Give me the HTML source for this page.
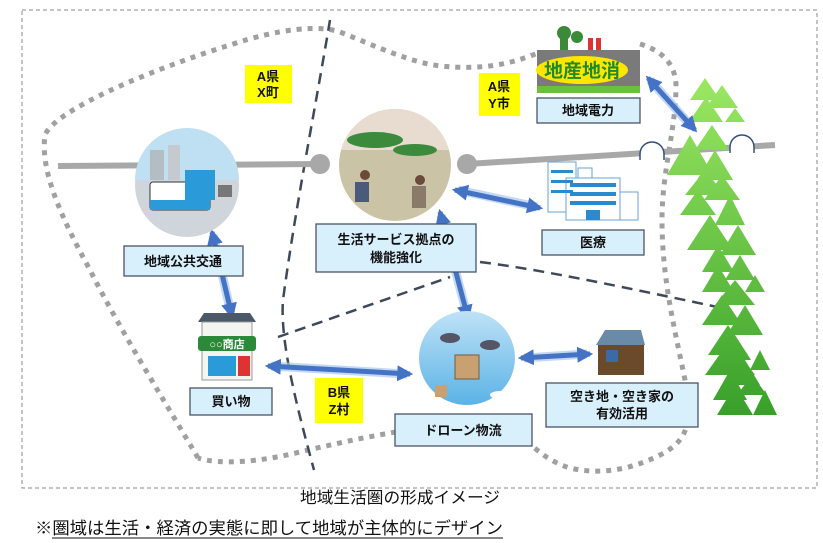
<!DOCTYPE html>
<html><head><meta charset="utf-8"><style>
html,body{margin:0;padding:0;background:#fff;}
svg{display:block;}
text{font-family:"Liberation Sans","Noto Sans CJK JP",sans-serif;}
.lb{font-weight:bold;font-size:13px;fill:#111;}
</style></head><body>
<svg width="823" height="543" viewBox="0 0 823 543" xmlns="http://www.w3.org/2000/svg">
<defs>
<linearGradient id="tg" x1="0" y1="0" x2="0" y2="1"><stop offset="0" stop-color="#9be862"/><stop offset="1" stop-color="#38a02a"/></linearGradient>
<linearGradient id="sky" x1="0" y1="0" x2="0" y2="1"><stop offset="0" stop-color="#bfe2f7"/><stop offset="1" stop-color="#5ab3e6"/></linearGradient>
<marker id="ah" viewBox="0 0 10 10" refX="8" refY="5" markerWidth="3.2" markerHeight="3.2" orient="auto-start-reverse"><path d="M0,0 L10,5 L0,10 z" fill="#4472c4"/></marker>
</defs>
<rect x="22" y="10" width="795" height="478" fill="none" stroke="#888" stroke-width="1" stroke-dasharray="4,3"/>
<path d="M198,458 C170,410 120,330 90,270 C60,215 40,170 45,135 C55,110 150,70 230,45 C280,28 320,25 340,32 C380,48 410,62 440,66 C480,70 510,65 540,52 M640,44 C660,50 675,62 676,85 C676,130 662,170 662,220 C662,280 675,330 685,380 C692,420 690,440 660,455 C630,470 600,475 570,468 C550,462 540,452 532,446 M396,432 C360,438 330,445 300,452 C260,462 220,465 198,458" fill="none" stroke="#a0a0a0" stroke-width="5" stroke-dasharray="5,6"/>
<path d="M330,20 C315,110 295,210 283,300 C280,340 295,400 314,470" fill="none" stroke="#3e4a5a" stroke-width="2.5" stroke-dasharray="11,7"/>
<path d="M278,337 L450,277 M480,262 C530,268 600,282 722,308" fill="none" stroke="#3e4a5a" stroke-width="2.5" stroke-dasharray="11,7"/>
<line x1="58" y1="166" x2="320" y2="164" stroke="#a8a8a8" stroke-width="6"/>
<circle cx="320" cy="164" r="10" fill="#a8a8a8"/>
<line x1="467" y1="164" x2="775" y2="145" stroke="#a8a8a8" stroke-width="6"/>
<circle cx="467" cy="164" r="10" fill="#a8a8a8"/>
<path d="M640,160 v-6 a12,12 0 0 1 24,0 v6" fill="#fff" stroke="#34507a" stroke-width="1.5"/>
<path d="M730,153 v-6 a12,12 0 0 1 24,0 v6" fill="#fff" stroke="#34507a" stroke-width="1.5"/>
<g fill="url(#tg)">
<path d="M705,78 l15,22 h-30z M722,85 l16,23 h-32z M706,97 l17,25 h-34z M735,108 l10,14 h-20z M712,125 l17,25 h-34z M690,135 l23,40 h-46z M715,150 l18,30 h-36z M705,170 l20,25 h-40z M722,175 l18,25 h-36z M698,190 l18,25 h-36z M730,195 l15,30 h-30z M710,215 l23,35 h-46z M738,225 l18,30 h-36z M718,245 l16,27 h-32z M740,255 l15,25 h-30z M718,265 l16,27 h-32z M755,275 l10,17 h-20z M735,280 l20,25 h-40z M722,295 l20,30 h-40z M745,305 l18,30 h-36z M728,325 l20,30 h-40z M735,335 l16,25 h-32z M760,350 l10,20 h-20z M730,340 l25,35 h-50z M742,355 l18,30 h-36z M730,370 l17,30 h-34z M752,375 l15,20 h-30z M735,385 l18,30 h-36z M765,390 l12,25 h-24z"/>
</g>
<g stroke="#a9c8ee" stroke-width="9" fill="none" opacity="0.7">
<line x1="458" y1="190" x2="537" y2="207"/><line x1="650" y1="80" x2="692" y2="127"/><line x1="213" y1="235" x2="231" y2="313"/><line x1="441" y1="215" x2="467" y2="315"/><line x1="271" y1="366" x2="407" y2="374"/><line x1="524" y1="358" x2="587" y2="354"/>
</g>
<g stroke="#4472c4" stroke-width="5" fill="none" marker-start="url(#ah)" marker-end="url(#ah)">
<line x1="455" y1="190" x2="540" y2="208"/>
<line x1="648" y1="78" x2="695" y2="130"/>
<line x1="212" y1="232" x2="232" y2="316"/>
<line x1="440" y1="212" x2="468" y2="318"/>
<line x1="268" y1="366" x2="410" y2="374"/>
<line x1="521" y1="358" x2="590" y2="354"/>
</g>
<circle cx="187" cy="185" r="52" fill="#cfd5da"/>
<path d="M135,180 A52,52 0 0 1 239,180 Z" fill="#bfe0f2"/>
<rect x="150" y="150" width="14" height="30" fill="#b4bcc4"/><rect x="168" y="145" width="12" height="35" fill="#c4cacf"/>
<rect x="150" y="182" width="60" height="28" rx="3" fill="#fff" stroke="#333"/><rect x="150" y="200" width="60" height="10" fill="#2a9ad8"/>
<rect x="185" y="170" width="30" height="30" fill="#2a9ad8"/>
<rect x="218" y="185" width="14" height="12" fill="#777"/>
<circle cx="395" cy="165" r="56" fill="#cbc3a5"/>
<path d="M341,150 A56,56 0 0 1 449,150 Z" fill="#e8dcd0"/>
<ellipse cx="375" cy="140" rx="28" ry="8" fill="#3c8a3c"/><ellipse cx="415" cy="150" rx="22" ry="6" fill="#3c8a3c"/>
<circle cx="365" cy="175" r="5" fill="#6a4a3a"/><circle cx="420" cy="180" r="5" fill="#6a4a3a"/><rect x="355" y="182" width="14" height="20" fill="#4a5a7a"/><rect x="412" y="186" width="14" height="22" fill="#8a7a6a"/>
<rect x="560" y="30" width="8" height="22" fill="#3a8a3a"/><circle cx="564" cy="33" r="7" fill="#3a8a3a"/><circle cx="577" cy="37" r="6" fill="#3a8a3a"/>
<rect x="588" y="38" width="5" height="16" fill="#d33"/><rect x="596" y="38" width="5" height="16" fill="#d33"/>
<rect x="537" y="50" width="103" height="38" fill="#7a7a7a"/>
<rect x="537" y="86" width="103" height="7" fill="#6cbf3a"/>
<ellipse cx="582" cy="70" rx="46" ry="14" fill="#ffe600"/>
<text x="582" y="77" text-anchor="middle" font-size="19" font-weight="bold" fill="#1f8a2a">地産地消</text>
<rect x="548" y="162" width="28" height="50" fill="#fff" stroke="#6aa3d8"/>
<rect x="566" y="178" width="54" height="42" fill="#fff" stroke="#6aa3d8"/>
<rect x="620" y="192" width="18" height="28" fill="#fff" stroke="#6aa3d8"/>
<rect x="578" y="168" width="14" height="10" fill="#fff" stroke="#6aa3d8"/>
<g fill="#2a8ad0"><rect x="570" y="183" width="46" height="4"/><rect x="570" y="192" width="46" height="4"/><rect x="570" y="201" width="46" height="4"/><rect x="551" y="170" width="22" height="3"/><rect x="551" y="180" width="22" height="3"/><rect x="551" y="190" width="22" height="3"/><rect x="586" y="210" width="14" height="10"/></g>
<path d="M198,322 L204,313 h46 l6,9 z" fill="#4a5868"/>
<rect x="202" y="322" width="50" height="58" fill="#f4f4f0" stroke="#999"/>
<rect x="198" y="336" width="58" height="15" rx="3" fill="#2a8a3a"/>
<text x="227" y="348" text-anchor="middle" font-size="11" font-weight="bold" fill="#fff">○○商店</text>
<rect x="208" y="356" width="28" height="20" fill="#2a9ad8"/><rect x="238" y="356" width="12" height="20" fill="#d33"/>
<ellipse cx="467" cy="358" rx="48" ry="47" fill="url(#sky)"/>
<rect x="455" y="355" width="24" height="24" fill="#c9a070" stroke="#7a5a3a"/>
<ellipse cx="450" cy="338" rx="10" ry="5" fill="#556"/><ellipse cx="490" cy="345" rx="10" ry="5" fill="#556"/>
<rect x="435" y="385" width="12" height="12" fill="#c9a070"/>
<ellipse cx="500" cy="395" rx="10" ry="4" fill="#fff"/>
<path d="M596,345 L605,330 h36 l4,15 z" fill="#6a8aa8"/>
<rect x="598" y="345" width="46" height="30" fill="#6a4a2a"/>
<rect x="606" y="350" width="12" height="12" fill="#3a6aa8"/>
<rect x="245" y="65" width="47" height="38" fill="#ffff00"/>
<text x="268" y="81" text-anchor="middle" class="lb">A県</text><text x="268" y="97" text-anchor="middle" class="lb">X町</text>
<rect x="479" y="73" width="41" height="43" fill="#ffff00"/>
<text x="499" y="91" text-anchor="middle" class="lb">A県</text><text x="499" y="108" text-anchor="middle" class="lb">Y市</text>
<rect x="315" y="378" width="48" height="45" fill="#ffff00"/>
<text x="339" y="397" text-anchor="middle" class="lb">B県</text><text x="339" y="414" text-anchor="middle" class="lb">Z村</text>
<g fill="#d8effc" stroke="#4a5566" stroke-width="1.3">
<rect x="124" y="246" width="119" height="30"/>
<rect x="316" y="224" width="160" height="48"/>
<rect x="537" y="98" width="103" height="25"/>
<rect x="542" y="230" width="102" height="25"/>
<rect x="190" y="388" width="82" height="27"/>
<rect x="395" y="414" width="137" height="32"/>
<rect x="546" y="383" width="152" height="44"/>
</g>
<g text-anchor="middle">
<text x="183" y="266" class="lb">地域公共交通</text>
<text x="396" y="244" class="lb">生活サービス拠点の</text>
<text x="396" y="262" class="lb">機能強化</text>
<text x="588" y="115" class="lb">地域電力</text>
<text x="593" y="247" class="lb">医療</text>
<text x="231" y="406" class="lb">買い物</text>
<text x="463" y="435" class="lb">ドローン物流</text>
<text x="622" y="401" class="lb">空き地・空き家の</text>
<text x="622" y="418" class="lb">有効活用</text>
</g>
<text x="300" y="503" font-size="16" fill="#111" textLength="200" lengthAdjust="spacingAndGlyphs">地域生活圏の形成イメージ</text>
<text x="35" y="534" font-size="17" fill="#111" textLength="468" lengthAdjust="spacingAndGlyphs">※圏域は生活・経済の実態に即して地域が主体的にデザイン</text>
<line x1="52" y1="538" x2="503" y2="538" stroke="#111" stroke-width="1"/>
</svg>
</body></html>
